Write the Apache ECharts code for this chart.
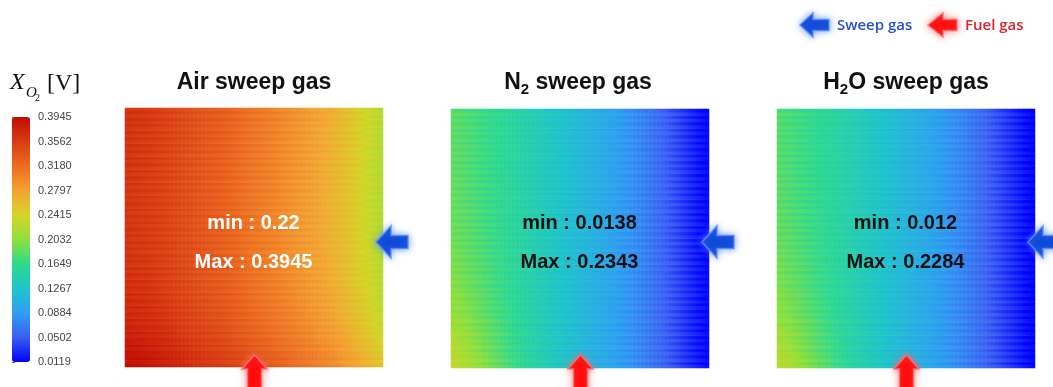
<!DOCTYPE html>
<html>
<head>
<meta charset="utf-8">
<script src="https://cdn.jsdelivr.net/npm/echarts@6/dist/echarts.min.js"></script>
<style>
  html, body { margin: 0; padding: 0; background: #ffffff; }
  #chart { width: 1053px; height: 387px; }
</style>
</head>
<body>
<div id="chart"></div>
<script>
// Oxygen mole fraction X_O2 across the cell for three sweep gases

const scaleMin = 0.0119;
const scaleMax = 0.3945;
const tickLabels = ['0.0119', '0.0502', '0.0884', '0.1267', '0.1649', '0.2032',
                    '0.2415', '0.2797', '0.3180', '0.3562', '0.3945'];
const jetColors = ['#0000ff', '#3c5ef2', '#2f9ef3', '#1fc5c9', '#2fd98c', '#8fe03c',
                   '#d4d628', '#f4a232', '#ec6c22', '#d83c12', '#c20c04'];

const panelNames = ['Air', 'N2', 'H2O'];
const panelMin = [0.22, 0.0138, 0.012];
const panelMax = [0.3945, 0.2343, 0.2284];

// column-wise X_O2 along the top of each panel, left edge to sweep-gas inlet (right edge)
const airColumns = [
  0.3655, 0.3646, 0.3637, 0.3627, 0.3618, 0.3608, 0.3597, 0.3583,
  0.3569, 0.3555, 0.3541, 0.3527, 0.3512, 0.3495, 0.3478, 0.3461,
  0.3444, 0.3427, 0.3410, 0.3392, 0.3373, 0.3354, 0.3335, 0.3316,
  0.3297, 0.3278, 0.3257, 0.3235, 0.3213, 0.3191, 0.3169, 0.3147,
  0.3129, 0.3109, 0.3089, 0.3069, 0.3049, 0.3029, 0.3009, 0.2989,
  0.2969, 0.2949, 0.2929, 0.2909, 0.2889, 0.2867, 0.2842, 0.2817,
  0.2792, 0.2767, 0.2742, 0.2717, 0.2689, 0.2653, 0.2617, 0.2581,
  0.2545, 0.2509, 0.2470, 0.2428, 0.2386, 0.2344, 0.2302, 0.2260];
const n2Columns = [
  0.1877, 0.1860, 0.1843, 0.1826, 0.1808, 0.1791, 0.1773, 0.1753,
  0.1733, 0.1713, 0.1692, 0.1672, 0.1652, 0.1629, 0.1606, 0.1582,
  0.1559, 0.1536, 0.1512, 0.1489, 0.1466, 0.1442, 0.1419, 0.1395,
  0.1372, 0.1349, 0.1325, 0.1302, 0.1278, 0.1255, 0.1232, 0.1208,
  0.1186, 0.1161, 0.1136, 0.1111, 0.1086, 0.1061, 0.1036, 0.1008,
  0.0980, 0.0952, 0.0924, 0.0896, 0.0868, 0.0836, 0.0803, 0.0770,
  0.0737, 0.0704, 0.0671, 0.0638, 0.0600, 0.0563, 0.0525, 0.0488,
  0.0450, 0.0413, 0.0374, 0.0335, 0.0296, 0.0257, 0.0218, 0.0179];
const h2oColumns = [
  0.1842, 0.1825, 0.1808, 0.1791, 0.1773, 0.1756, 0.1738, 0.1718,
  0.1698, 0.1678, 0.1657, 0.1637, 0.1617, 0.1594, 0.1571, 0.1547,
  0.1524, 0.1501, 0.1477, 0.1454, 0.1431, 0.1407, 0.1384, 0.1360,
  0.1337, 0.1314, 0.1290, 0.1267, 0.1243, 0.1220, 0.1197, 0.1173,
  0.1151, 0.1126, 0.1101, 0.1076, 0.1051, 0.1026, 0.1001, 0.0973,
  0.0945, 0.0917, 0.0889, 0.0861, 0.0833, 0.0801, 0.0768, 0.0735,
  0.0702, 0.0669, 0.0636, 0.0603, 0.0566, 0.0530, 0.0493, 0.0457,
  0.0420, 0.0384, 0.0347, 0.0311, 0.0274, 0.0238, 0.0201, 0.0165];

// extra O2 along the fuel-inlet edge (bottom), per pair of columns
const airBottomBoost = [
  0.030, 0.030, 0.030, 0.029, 0.029, 0.029, 0.029, 0.028,
  0.028, 0.028, 0.028, 0.028, 0.028, 0.028, 0.028, 0.028,
  0.028, 0.028, 0.028, 0.028, 0.028, 0.028, 0.028, 0.028,
  0.028, 0.029, 0.029, 0.029, 0.029, 0.030, 0.030, 0.030];
const n2BottomBoost = [
  0.047, 0.043, 0.038, 0.033, 0.028, 0.024, 0.020, 0.016,
  0.013, 0.010, 0.008, 0.006, 0.004, 0.003, 0.002, 0.001,
  0, 0, 0, 0, 0, 0, 0, 0, 0, 0, 0, 0, 0, 0, 0, 0];
const h2oBottomBoost = [
  0.046, 0.042, 0.037, 0.032, 0.027, 0.023, 0.019, 0.015,
  0.012, 0.009, 0.007, 0.005, 0.004, 0.003, 0.002, 0.001,
  0, 0, 0, 0, 0, 0, 0, 0, 0, 0, 0, 0, 0, 0, 0, 0];

// how far that boost reaches up, per band of four rows (bottom to top)
const airRowBands = [1, 0.8, 0.6, 0.45, 0.33, 0.24, 0.17, 0.12, 0.08, 0.05,
                     0.03, 0.02, 0.02, 0.02, 0.02, 0.03, 0.04, 0.06, 0.08, 0.1];
const cathodeRowBands = [1, 0.85, 0.72, 0.6, 0.5, 0.42, 0.35, 0.29, 0.24, 0.19,
                         0.15, 0.12, 0.09, 0.07, 0.05, 0.04, 0.03, 0.02, 0.01, 0];

// channel/rib banding depth
const stripeDepth = [0.008, 0.010, 0.010];

const ROWS = 80;

function buildField(cols, boost, bands, stripe, lo, hi) {
  const out = [];
  for (let r = 0; r < ROWS; r++) {
    for (let c = 0; c < cols.length; c++) {
      let v = cols[c] + boost[Math.floor(c / 2)] * bands[Math.floor(r / 4)] - (r % 2 ? stripe : 0);
      v = Math.min(hi, Math.max(lo, v));
      out.push([c, r, +v.toFixed(4)]);
    }
  }
  return out;
}

const fields = [
  buildField(airColumns, airBottomBoost, airRowBands, stripeDepth[0], panelMin[0], panelMax[0]),
  buildField(n2Columns, n2BottomBoost, cathodeRowBands, stripeDepth[1], panelMin[1], panelMax[1]),
  buildField(h2oColumns, h2oBottomBoost, cathodeRowBands, stripeDepth[2], panelMin[2], panelMax[2])
];

const colIdx = airColumns.map((_, i) => i);
const rowIdx = Array.from({ length: ROWS }, (_, i) => i);

const panelBoxes = [
  { left: 125, top: 108, width: 258, height: 259 },
  { left: 451, top: 109, width: 258, height: 259 },
  { left: 777, top: 109, width: 258, height: 259 }
];
const colorbarBox = { left: 12, top: 117, width: 18, height: 245 };

const SANS = 'Liberation Sans, Arial, sans-serif';
const SERIF = 'Liberation Serif, Times New Roman, serif';

function leftArrow(tipX, tipY, headLen, headHalf, shaftHalf, len, fill, glow) {
  return {
    type: 'polygon', z: 100,
    shape: { points: [[tipX, tipY], [tipX + headLen, tipY - headHalf], [tipX + headLen, tipY - shaftHalf],
      [tipX + len, tipY - shaftHalf], [tipX + len, tipY + shaftHalf], [tipX + headLen, tipY + shaftHalf],
      [tipX + headLen, tipY + headHalf]] },
    style: { fill: fill, stroke: glow, lineWidth: 1.5, shadowBlur: 7, shadowColor: glow }
  };
}
function upArrow(tipX, tipY, headLen, headHalf, shaftHalf, len, fill, glow) {
  return {
    type: 'polygon', z: 100,
    shape: { points: [[tipX, tipY], [tipX + headHalf, tipY + headLen], [tipX + shaftHalf, tipY + headLen],
      [tipX + shaftHalf, tipY + len], [tipX - shaftHalf, tipY + len], [tipX - shaftHalf, tipY + headLen],
      [tipX - headHalf, tipY + headLen]] },
    style: { fill: fill, stroke: glow, lineWidth: 1.5, shadowBlur: 7, shadowColor: glow }
  };
}

const SWEEP_BLUE = '#0c48d6';
const SWEEP_GLOW = 'rgba(90,140,255,0.85)';
const FUEL_RED = '#ff0808';
const FUEL_GLOW = 'rgba(255,110,110,0.85)';

const titleRich = {
  m: { fontSize: 23, fontWeight: 'bold', fontFamily: SANS, fill: '#111', lineHeight: 28 },
  s: { fontSize: 15, fontWeight: 'bold', fontFamily: SANS, fill: '#111', lineHeight: 14, verticalAlign: 'bottom' }
};
const panelTitleText = ['{m|Air sweep gas}', '{m|N}{s|2}{m| sweep gas}', '{m|H}{s|2}{m|O sweep gas}'];
const titleCenters = [254, 578, 906];
const labelColors = ['#ffffff', '#111111', '#111111'];

const graphics = [];
panelBoxes.forEach((b, i) => {
  graphics.push({
    type: 'text', z: 100, x: titleCenters[i], y: 83,
    style: { text: panelTitleText[i], rich: titleRich, align: 'center', verticalAlign: 'middle' }
  });
  const cx = b.left + b.width / 2 - 0.5;
  graphics.push({
    type: 'text', z: 100, x: cx, y: 223,
    style: { text: 'min : ' + panelMin[i], font: 'bold 20px ' + SANS, fill: labelColors[i], align: 'center', verticalAlign: 'middle' }
  });
  graphics.push({
    type: 'text', z: 100, x: cx, y: 262,
    style: { text: 'Max : ' + panelMax[i], font: 'bold 20px ' + SANS, fill: labelColors[i], align: 'center', verticalAlign: 'middle' }
  });
  // sweep gas enters from the right edge, fuel gas from the bottom edge
  graphics.push(leftArrow(b.left + b.width - 7, 242, 15, 16, 6.5, 32, SWEEP_BLUE, SWEEP_GLOW));
  graphics.push(upArrow(b.left + b.width / 2 + 0.5, 355, 14, 12.5, 7, 40, FUEL_RED, FUEL_GLOW));
});

// legend
graphics.push(leftArrow(800, 25, 13, 12, 5.5, 29, SWEEP_BLUE, SWEEP_GLOW));
graphics.push({ type: 'text', z: 100, x: 837, y: 26,
  style: { text: 'Sweep gas', font: '600 15px Open Sans, sans-serif', fill: '#2a4ed2', align: 'left', verticalAlign: 'middle' } });
graphics.push(leftArrow(928, 25, 15, 12, 5.5, 29, FUEL_RED, FUEL_GLOW));
graphics.push({ type: 'text', z: 100, x: 965, y: 26,
  style: { text: 'Fuel gas', font: '600 15px Open Sans, sans-serif', fill: '#e4222a', align: 'left', verticalAlign: 'middle' } });

// colour bar heading X_{O_2} [V]
graphics.push({ type: 'text', z: 100, x: 10, y: 83,
  style: { text: 'X', font: 'italic 24px ' + SERIF, fill: '#111', align: 'left', verticalAlign: 'middle' } });
graphics.push({ type: 'text', z: 100, x: 26, y: 93,
  style: { text: 'O', font: 'italic 15px ' + SERIF, fill: '#111', align: 'left', verticalAlign: 'middle' } });
graphics.push({ type: 'text', z: 100, x: 35, y: 98,
  style: { text: '2', font: '10px ' + SERIF, fill: '#111', align: 'left', verticalAlign: 'middle' } });
graphics.push({ type: 'text', z: 100, x: 47, y: 84,
  style: { text: '[V]', font: '24px ' + SERIF, fill: '#111', align: 'left', verticalAlign: 'middle' } });

const hiddenCat = (data, gi) => ({ type: 'category', gridIndex: gi, data: data, show: false, boundaryGap: true });

const option = {
  backgroundColor: '#ffffff',
  animation: false,
  grid: panelBoxes.concat([colorbarBox]),
  xAxis: [hiddenCat(colIdx, 0), hiddenCat(colIdx, 1), hiddenCat(colIdx, 2),
    { type: 'value', gridIndex: 3, show: false, min: 0, max: 1 }],
  yAxis: [hiddenCat(rowIdx, 0), hiddenCat(rowIdx, 1), hiddenCat(rowIdx, 2),
    { type: 'value', gridIndex: 3, position: 'right', min: 0, max: 10, interval: 1,
      axisLine: { show: false }, splitLine: { show: false },
      axisTick: { show: true, length: 3, lineStyle: { color: '#666', width: 1 } },
      axisLabel: { margin: 8, fontSize: 11, fontFamily: SANS, color: '#444',
        formatter: (v) => tickLabels[Math.round(v)] } }],
  visualMap: {
    type: 'continuous', min: scaleMin, max: scaleMax, seriesIndex: [0, 1, 2],
    orient: 'vertical', left: colorbarBox.left, top: colorbarBox.top,
    itemWidth: colorbarBox.width, itemHeight: colorbarBox.height,
    padding: 0, calculable: false, hoverLink: false, text: null,
    inRange: { color: jetColors }
  },
  series: fields.map((d, i) => ({
    type: 'heatmap', name: panelNames[i], xAxisIndex: i, yAxisIndex: i,
    data: d, progressive: 0, emphasis: { disabled: true },
    itemStyle: { borderWidth: 0 }
  })).concat([{ type: 'scatter', xAxisIndex: 3, yAxisIndex: 3, data: [], silent: true }]),
  graphic: graphics
};

const chart = echarts.init(document.getElementById('chart'), null, { renderer: 'canvas' });
chart.setOption(option);
</script>
</body>
</html>
